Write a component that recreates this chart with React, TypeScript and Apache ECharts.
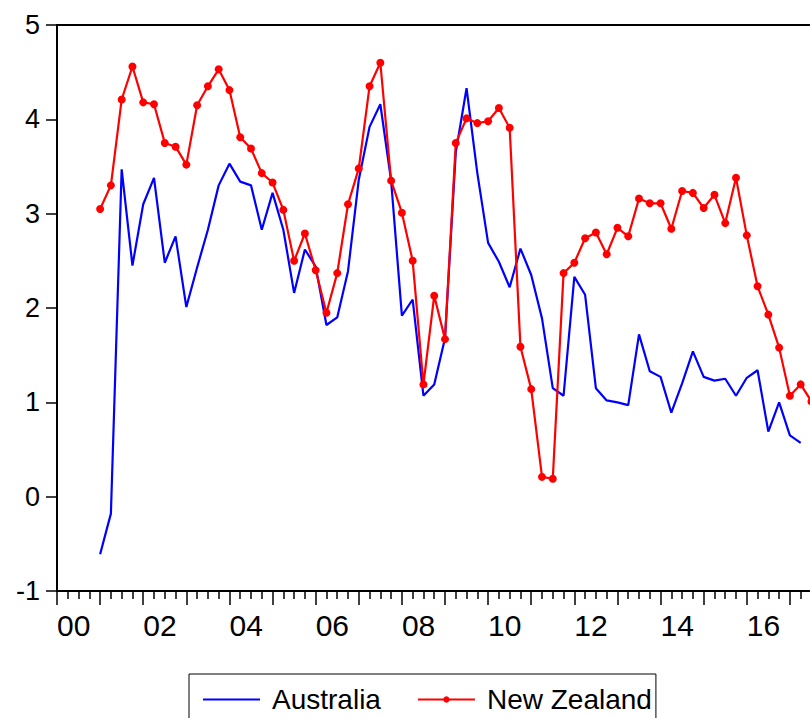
import React, { useEffect, useRef } from "react";
import * as echarts from "echarts";

// Quarterly observations, first observation 2001Q1
const startYear = 2001;
const axisStartYear = 2000;
const axisEndYear = 2018;
const australia = [
  -0.61, -0.18, 3.47, 2.45, 3.1, 3.38, 2.48, 2.76, 2.01, 2.43, 2.83, 3.3, 3.53, 3.34, 3.3, 2.83,
  3.22, 2.83, 2.16, 2.62, 2.44, 1.82, 1.9, 2.39, 3.36, 3.92, 4.16, 3.35, 1.92, 2.09, 1.07, 1.19,
  1.68, 3.65, 4.33, 3.43, 2.69, 2.49, 2.22, 2.63, 2.35, 1.89, 1.15, 1.07, 2.33, 2.14, 1.15, 1.02,
  1.0, 0.97, 1.72, 1.33, 1.27, 0.89, 1.2, 1.54, 1.27, 1.23, 1.25, 1.07, 1.26, 1.34, 0.69, 1.0,
  0.65, 0.57,
];
const newZealand = [
  3.05, 3.3, 4.21, 4.56, 4.18, 4.16, 3.75, 3.71, 3.52, 4.15, 4.35, 4.53, 4.31, 3.81, 3.69, 3.43,
  3.33, 3.04, 2.5, 2.79, 2.4, 1.95, 2.37, 3.1, 3.48, 4.35, 4.6, 3.35, 3.01, 2.5, 1.19, 2.13,
  1.67, 3.75, 4.01, 3.96, 3.98, 4.12, 3.91, 1.59, 1.14, 0.21, 0.19, 2.37, 2.48, 2.74, 2.8, 2.57,
  2.85, 2.76, 3.16, 3.11, 3.11, 2.84, 3.24, 3.22, 3.06, 3.2, 2.9, 3.38, 2.77, 2.23, 1.93, 1.58,
  1.07, 1.19, 1.01,
];
const yMin = -1;
const yMax = 5;
const seriesNames = ["Australia", "New Zealand"];

const toPairs = (vals: number[]) =>
  vals.map((v, i) => [(startYear - axisStartYear) * 4 + i, v]);

const FONT = "'Liberation Sans', Arial, sans-serif";

export default function App() {
  const ref = useRef<HTMLDivElement>(null);
  useEffect(() => {
    if (!ref.current) return;
    const chart = echarts.init(ref.current, undefined, { renderer: "svg" });
    const option: any = {
      animation: false,
      backgroundColor: "#ffffff",
      grid: {
        left: 57,
        top: 25,
        right: 17,
        bottom: 127,
        show: true,
        borderColor: "#000",
        borderWidth: 2,
        containLabel: false,
      },
      legend: {
        left: 189,
        top: 674,
        orient: "horizontal",
        itemWidth: 57,
        itemHeight: 8,
        itemGap: 36,
        padding: [11, 4, 60, 13],
        borderColor: "#000",
        borderWidth: 1,
        textStyle: {
          fontFamily: FONT,
          fontSize: 28,
          lineHeight: 29,
          color: "#000",
          padding: [0, 0, 0, 7],
        },
        data: [
          { name: seriesNames[0], itemStyle: { opacity: 0 } },
          { name: seriesNames[1] },
        ],
      },
      xAxis: {
        type: "value",
        min: 0,
        max: (axisEndYear - axisStartYear) * 4,
        interval: 4,
        axisLine: { show: true, onZero: false, lineStyle: { color: "#000", width: 2 } },
        axisTick: { show: true, inside: false, length: 14, lineStyle: { color: "#000", width: 1.5 } },
        minorTick: { show: true, splitNumber: 4, length: 8, lineStyle: { color: "#000", width: 1.5 } },
        splitLine: { show: false },
        minorSplitLine: { show: false },
        axisLabel: {
          show: true,
          margin: 19,
          align: "left",
          fontFamily: FONT,
          fontSize: 30,
          color: "#000",
          showMinLabel: true,
          showMaxLabel: true,
          formatter: (v: number) => {
            const y = axisStartYear + v / 4;
            if (y >= axisEndYear) return "";
            if (y % 2 !== 0) return "";
            return String(y % 100).padStart(2, "0");
          },
        },
      },
      yAxis: {
        type: "value",
        min: yMin,
        max: yMax,
        interval: 1,
        axisLine: { show: true, onZero: false, lineStyle: { color: "#000", width: 2 } },
        axisTick: { show: true, inside: false, length: 11, lineStyle: { color: "#000", width: 1.5 } },
        splitLine: { show: false },
        axisLabel: {
          margin: 17,
          fontFamily: FONT,
          fontSize: 27,
          color: "#000",
        },
      },
      series: [
        {
          name: seriesNames[0],
          type: "line",
          data: toPairs(australia),
          symbol: "none",
          lineStyle: { color: "#0000ff", width: 2.2 },
          itemStyle: { color: "#0000ff" },
        },
        {
          name: seriesNames[1],
          type: "line",
          data: toPairs(newZealand),
          symbol: "circle",
          symbolSize: 8,
          lineStyle: { color: "#ff0000", width: 2.2 },
          itemStyle: { color: "#ff0000" },
        },
      ],
    };
    chart.setOption(option);
    return () => chart.dispose();
  }, []);
  return (
    <div
      style={{
        position: "fixed",
        left: 0,
        top: 0,
        width: 810,
        height: 718,
        overflow: "hidden",
        background: "#fff",
      }}
    >
      <div ref={ref} style={{ width: 850, height: 718 }} />
    </div>
  );
}
